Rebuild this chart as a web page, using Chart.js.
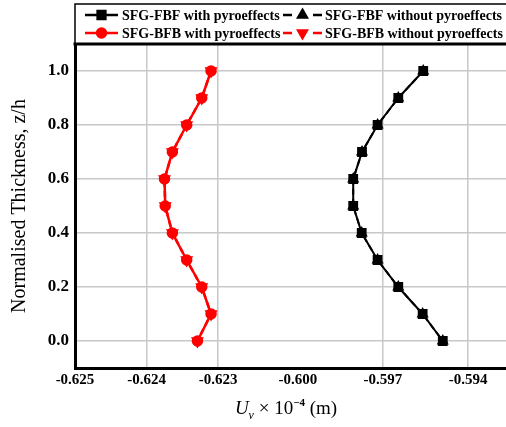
<!DOCTYPE html>
<html>
<head>
<meta charset="utf-8">
<script src="https://cdn.jsdelivr.net/npm/chart.js@4.4.1/dist/chart.umd.min.js"></script>
<style>
  html, body { margin: 0; padding: 0; background: #fff; }
</style>
</head>
<body>
<canvas id="thicknessChart" width="506" height="427"></canvas>
<script>
// normalised thickness z/h (y axis)
var zh = [1.0, 0.9, 0.8, 0.7, 0.6, 0.5, 0.4, 0.3, 0.2, 0.1, 0.0];

// Uv x 10^-4 (m)
var fbfWith    = [-0.59558, -0.59646, -0.59719, -0.59774, -0.59805, -0.59805, -0.59775, -0.59719, -0.59646, -0.59560, -0.59489];
var fbfWithout = [-0.59558, -0.59646, -0.59719, -0.59774, -0.59805, -0.59805, -0.59775, -0.59719, -0.59646, -0.59560, -0.59489];
var bfbWith    = [-0.62310, -0.62323, -0.62344, -0.62364, -0.62375, -0.62374, -0.62364, -0.62344, -0.62323, -0.62310, -0.62329];
var bfbWithout = [-0.62310, -0.62323, -0.62344, -0.62364, -0.62375, -0.62374, -0.62364, -0.62344, -0.62323, -0.62310, -0.62329];

var xTicks = [-0.625, -0.624, -0.623, -0.600, -0.597, -0.594];
var yTicks = [0.0, 0.2, 0.4, 0.6, 0.8, 1.0];

// the x axis is broken in two pieces, each with its own scale
var xSegments = [
  { lo: -0.625,   hi: -0.6225,  w: 179 },
  { lo: -0.60155, hi: -0.59266, w: 252 }
];
var xNoGrid = [-0.625, -0.600];

function toAxis(v) {
  var off = 0;
  for (var i = 0; i < xSegments.length; i++) {
    var s = xSegments[i];
    if (v <= s.hi || i === xSegments.length - 1) {
      return off + (v - s.lo) / (s.hi - s.lo) * s.w;
    }
    off += s.w;
  }
}
function axisTotal() {
  return xSegments.reduce(function(a, s) { return a + s.w; }, 0);
}

function pts(xs) {
  return xs.map(function(v, i) { return { x: toAxis(v), y: zh[i] }; });
}

var serif = "'Liberation Serif', 'Times New Roman', serif";

// legend box drawn above the plot, 2 x 2 entries
var legendPlugin = {
  id: 'boxLegend',
  afterDraw: function(chart) {
    var ctx = chart.ctx;
    var ca = chart.chartArea;
    ctx.save();
    ctx.strokeStyle = '#000';
    ctx.lineWidth = 1.5;
    ctx.strokeRect(ca.left, 4, 600, ca.top - 4);

    var cols = [{ a: 85, b: 118, t: 122 }, { a: 283, b: 322, t: 325 }];
    var rows = [15, 33];
    chart.data.datasets.forEach(function(ds, i) {
      var c = cols[i % 2], y = rows[Math.floor(i / 2)];
      var mid = (c.a + c.b) / 2;
      ctx.strokeStyle = ds.borderColor;
      ctx.lineWidth = 2.5;
      ctx.setLineDash([]);
      ctx.beginPath();
      if (ds.borderDash && ds.borderDash.length) {
        ctx.moveTo(c.a, y); ctx.lineTo(c.a + 9, y);
        ctx.moveTo(c.b - 9, y); ctx.lineTo(c.b, y);
      } else {
        ctx.moveTo(c.a, y); ctx.lineTo(c.b, y);
      }
      ctx.stroke();
      ctx.fillStyle = ds.pointBackgroundColor;
      ctx.strokeStyle = ds.pointBorderColor;
      Chart.helpers.drawPoint(ctx, {
        pointStyle: ds.pointStyle, radius: ds.pointRadius,
        rotation: ds.pointRotation || 0, borderWidth: 1
      }, mid, y);
      ctx.fillStyle = '#000';
      ctx.font = 'bold 14px ' + serif;
      ctx.textBaseline = 'middle';
      ctx.textAlign = 'left';
      ctx.fillText(ds.label, c.t, y + 1);
    });
    ctx.restore();
  }
};

// top frame line and the x title with sub/superscript
var framePlugin = {
  id: 'frame',
  afterDraw: function(chart) {
    var ctx = chart.ctx;
    var ca = chart.chartArea;
    ctx.save();
    ctx.strokeStyle = '#000';
    ctx.lineWidth = 3;
    ctx.beginPath();
    ctx.moveTo(ca.left - 1.5, ca.top);
    ctx.lineTo(ca.right, ca.top);
    ctx.stroke();

    var parts = [
      { t: 'U', f: 'italic 19px ', dy: 0 },
      { t: 'v', f: 'italic 12px ', dy: 5 },
      { t: ' \u00d7 10', f: '19px ', dy: 0 },
      { t: '\u22124', f: 'bold 11px ', dy: -8 },
      { t: ' (m)', f: '19px ', dy: 0 }
    ];
    var total = 0;
    parts.forEach(function(p) { ctx.font = p.f + serif; p.w = ctx.measureText(p.t).width; total += p.w; });
    var x = 286 - total / 2, y = 414;
    ctx.fillStyle = '#000';
    ctx.textBaseline = 'alphabetic';
    ctx.textAlign = 'left';
    parts.forEach(function(p) { ctx.font = p.f + serif; ctx.fillText(p.t, x, y + p.dy); x += p.w; });
    ctx.restore();
  }
};

var ctx = document.getElementById('thicknessChart').getContext('2d');
var chart = new Chart(ctx, {
  type: 'line',
  data: {
    datasets: [{
      label: 'SFG-FBF with pyroeffects',
      data: pts(fbfWith),
      borderColor: '#000', backgroundColor: '#000',
      pointBackgroundColor: '#000', pointBorderColor: '#000',
      pointStyle: 'rect', pointRadius: 5.5, borderWidth: 2,
      order: 1
    }, {
      label: 'SFG-FBF without pyroeffects',
      data: pts(fbfWithout),
      borderColor: '#000', backgroundColor: '#000',
      pointBackgroundColor: '#000', pointBorderColor: '#000',
      pointStyle: 'triangle', pointRadius: 5, borderWidth: 2,
      borderDash: [6, 4],
      order: 0
    }, {
      label: 'SFG-BFB with pyroeffects',
      data: pts(bfbWith),
      borderColor: '#ff0000', backgroundColor: '#ff0000',
      pointBackgroundColor: '#ff0000', pointBorderColor: '#ff0000',
      pointStyle: 'circle', pointRadius: 4.5, borderWidth: 2.5,
      order: 1
    }, {
      label: 'SFG-BFB without pyroeffects',
      data: pts(bfbWithout),
      borderColor: '#ff0000', backgroundColor: '#ff0000',
      pointBackgroundColor: '#ff0000', pointBorderColor: '#ff0000',
      pointStyle: 'triangle', pointRotation: 180, pointRadius: 5, borderWidth: 2.5,
      borderDash: [6, 4],
      order: 0
    }]
  },
  options: {
    responsive: false,
    animation: false,
    devicePixelRatio: 1,
    layout: { autoPadding: false, padding: { top: 44, left: 0, right: 0, bottom: 0 } },
    plugins: { legend: { display: false }, tooltip: { enabled: false } },
    scales: {
      x: {
        type: 'linear',
        min: 0,
        max: axisTotal(),
        afterBuildTicks: function(scale) {
          scale.ticks = xTicks.map(function(v) { return { value: toAxis(v) }; });
        },
        afterFit: function(scale) {
          scale.height = 59;
          scale.paddingLeft = 0;
          scale.paddingRight = 0;
        },
        ticks: {
          autoSkip: false,
          maxRotation: 0,
          padding: 3,
          color: '#000',
          font: { family: serif, size: 15, weight: 'bold' },
          callback: function(value, index) { return xTicks[index].toFixed(3); }
        },
        grid: {
          drawTicks: false,
          lineWidth: 1.5,
          color: function(c) {
            var v = xTicks[c.index];
            return (v !== undefined && xNoGrid.indexOf(v) >= 0) ? 'rgba(0,0,0,0)' : '#c8c8c8';
          }
        },
        border: { color: '#000', width: 3 }
      },
      y: {
        type: 'linear',
        min: -0.1,
        max: 1.1,
        afterBuildTicks: function(scale) {
          scale.ticks = yTicks.map(function(v) { return { value: v }; });
        },
        afterFit: function(scale) {
          scale.width = 75;
          scale.paddingTop = 0;
          scale.paddingBottom = 0;
        },
        ticks: {
          padding: 6,
          color: '#000',
          font: { family: serif, size: 17, weight: 'bold' },
          callback: function(value) { return Number(value).toFixed(1); }
        },
        grid: { drawTicks: false, lineWidth: 1.5, color: '#c8c8c8' },
        border: { color: '#000', width: 3 },
        title: {
          display: true,
          text: 'Normalised Thickness, z/h',
          color: '#000',
          padding: { top: 8, bottom: 0 },
          font: { family: serif, size: 20, weight: 'normal' }
        }
      }
    }
  },
  plugins: [legendPlugin, framePlugin]
});
</script>
</body>
</html>
